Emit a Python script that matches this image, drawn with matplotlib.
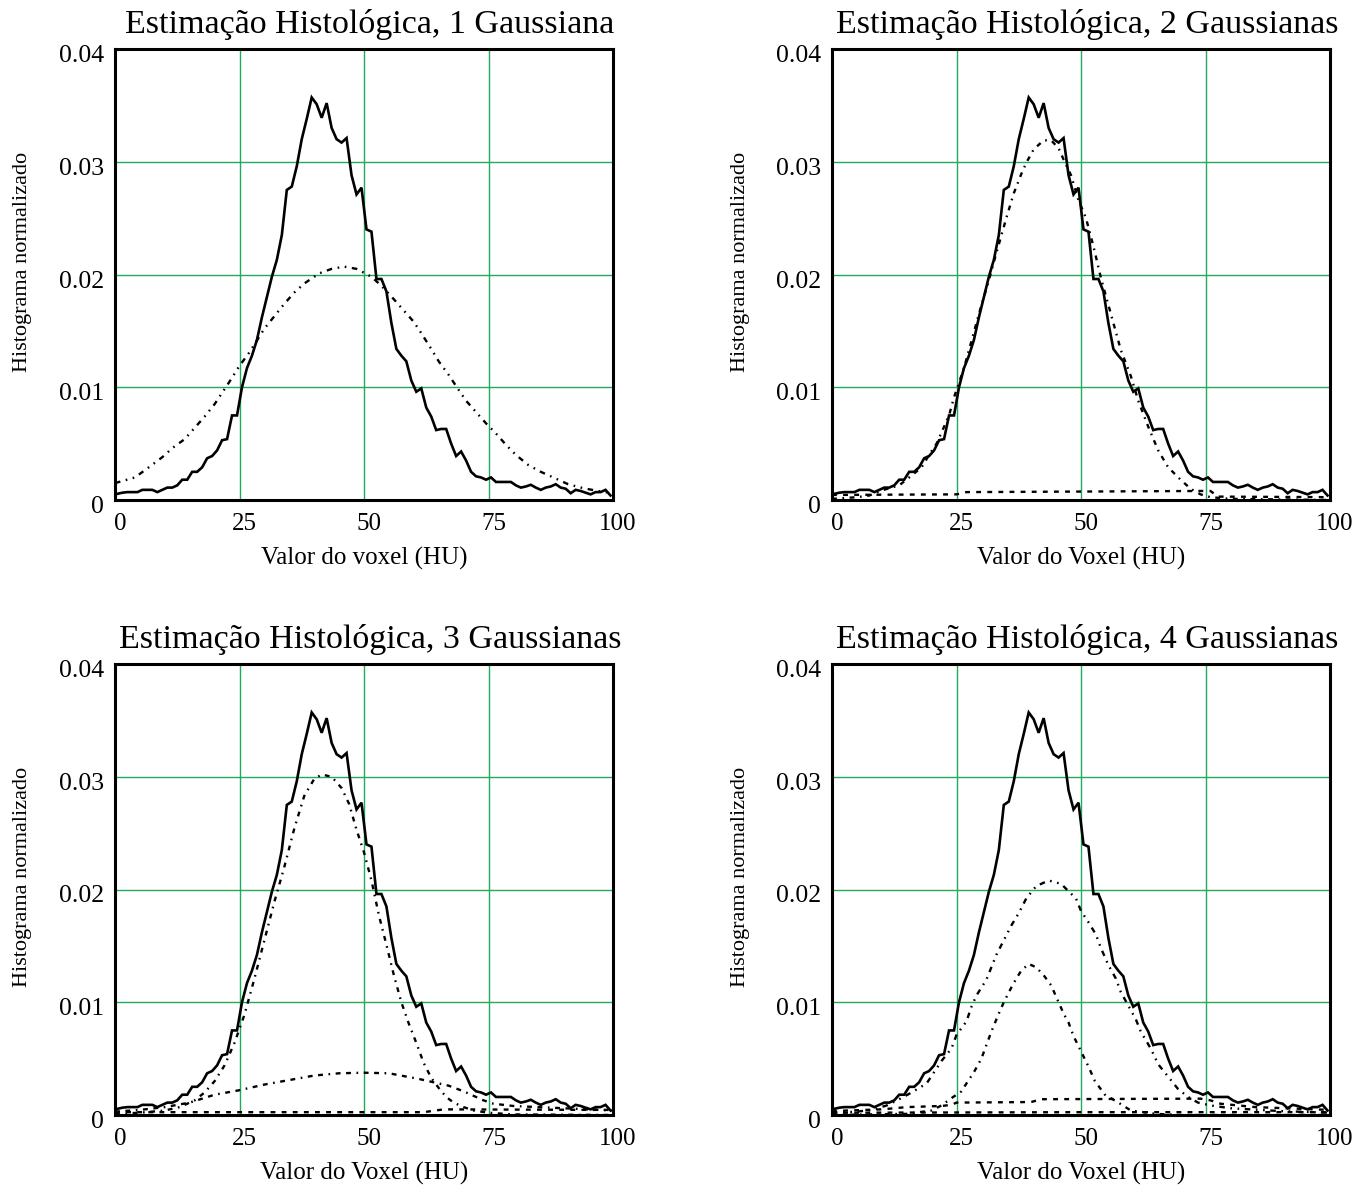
import numpy as np
import matplotlib
matplotlib.use("Agg")
import matplotlib.pyplot as plt
from matplotlib.transforms import ScaledTranslation, blended_transform_factory

plt.rcParams['font.family'] = ['Liberation Serif', 'DejaVu Serif']
plt.rcParams['lines.scale_dashes'] = False

# normalised histogram, one value per HU bin (bin centres 0.5 ... 99.5), in units of 1e-3
hist_y = [0.55, 0.65, 0.7, 0.7, 0.7, 0.9, 0.9, 0.9, 0.7, 0.9,
          1.1, 1.1, 1.3, 1.8, 1.8, 2.5, 2.5, 2.9, 3.7, 3.9,
          4.4, 5.3, 5.4, 7.5, 7.5, 10.0, 11.7, 12.8, 14.2, 16.2,
          18.0, 19.8, 21.3, 23.5, 27.5, 27.8, 29.6, 32.0, 33.8, 35.7,
          35.1, 33.9, 35.2, 33.0, 32.0, 31.7, 32.1, 28.8, 27.1, 27.7,
          24.0, 23.8, 19.6, 19.6, 18.5, 15.7, 13.4, 12.8, 12.3, 10.6,
          9.6, 9.9, 8.2, 7.4, 6.2, 6.3, 6.3, 5.0, 3.9, 4.3,
          3.5, 2.5, 2.1, 2.0, 1.8, 2.0, 1.6, 1.6, 1.6, 1.6,
          1.3, 1.1, 1.2, 1.35, 1.1, 0.9, 1.1, 1.2, 1.4, 1.1,
          1.0, 0.6, 0.9, 0.8, 0.65, 0.5, 0.7, 0.7, 0.9, 0.4]
hist_x = np.arange(len(hist_y)) + 0.5

# fitted components (x in HU, y in units of 1e-3)
g1_x = [0, 4, 6.5, 9.5, 11.5, 14, 16, 18, 20, 21.5, 23, 25, 27, 28, 30, 32, 34, 36, 38, 41,
        43.5, 46, 48.5, 51.5, 53.5, 56, 58, 60, 61.5, 63.5, 65, 67, 68.5, 70.5, 72.5, 74.5,
        76.5, 78.5, 80.5, 83, 85.5, 88, 91, 94, 97, 100]
g1_y = [1.5, 2.0, 2.8, 3.8, 4.6, 5.4, 6.4, 7.4, 8.5, 9.5, 10.5, 11.9, 13.1, 13.8, 15.2, 16.3,
        17.4, 18.4, 19.2, 20.1, 20.5, 20.7, 20.5, 19.8, 19.0, 17.8, 16.8, 15.8, 14.8, 13.4,
        12.3, 11.1, 10.1, 8.8, 7.8, 6.8, 5.9, 4.9, 4.0, 3.1, 2.5, 2.0, 1.4, 1.05, 0.8, 0.6]

g2a_x = [0, 5, 7.5, 10, 13.5, 15.5, 18, 19.5, 21, 22.5, 23.5, 24.5, 26.5, 29.5, 31.5, 33, 35,
         36.5, 38, 39, 40.5, 42.5, 44, 45.5, 46.5, 48, 49.5, 51, 52.5, 54, 56.5, 58, 60, 61.5,
         63.5, 65.5, 67.5, 70, 72, 74, 76, 80, 100]
g2a_y = [0.1, 0.25, 0.4, 0.85, 1.3, 2.0, 2.9, 4.0, 5.0, 6.5, 7.5, 9.1, 11.7, 16.5, 19.5, 21.9,
         25.0, 27.2, 28.9, 29.9, 31.1, 31.9, 31.9, 31.2, 30.2, 28.8, 26.6, 25.0, 22.5, 19.7,
         15.7, 13.3, 11.0, 8.8, 6.5, 4.4, 2.9, 1.8, 1.0, 0.5, 0.25, 0.1, 0.0]
g2b_x = [0, 25, 27, 74, 76, 77.5, 100]
g2b_y = [0.45, 0.5, 0.7, 0.8, 0.8, 0.3, 0.25]

g3a_x = [0, 5, 10, 13, 16, 18, 20, 22, 24, 26, 28, 30, 32, 34, 36, 38, 40, 41.5, 43.5, 45.5,
         47, 48.5, 50, 51.5, 53, 54.5, 56, 57.5, 59, 60.5, 62, 63.5, 65, 66.5, 68, 70, 72, 75,
         80, 100]
g3a_y = [0.1, 0.2, 0.4, 0.7, 1.3, 2.0, 3.0, 4.4, 6.4, 8.9, 12.1, 15.5, 18.9, 22.0, 25.4, 28.3,
         29.8, 30.2, 30.0, 29.0, 27.6, 25.3, 23.3, 20.8, 17.7, 15.1, 12.4, 10.0, 8.1, 6.4, 4.6,
         3.3, 2.4, 1.6, 1.1, 0.7, 0.4, 0.2, 0.05, 0.0]
g3b_x = [0, 5, 10, 15, 20, 25, 30, 35, 40, 45, 50, 55, 58, 61, 64, 67, 70, 72, 74, 76, 80, 90, 100]
g3b_y = [0.3, 0.45, 0.7, 1.1, 1.8, 2.2, 2.7, 3.1, 3.5, 3.7, 3.75, 3.7, 3.45, 3.2, 2.9, 2.6, 2.1,
         1.7, 1.3, 1.0, 0.8, 0.6, 0.4]
g3c_x = [0, 62, 66, 100]
g3c_y = [0.25, 0.25, 0.5, 0.45]

g4a_x = [0, 5, 8, 11, 13.5, 16, 19, 20.5, 22, 24, 25, 27, 28, 29, 31, 32, 33, 34.5, 36, 37.5,
         39, 41, 43.5, 46, 49, 50, 51.5, 53, 54, 55.5, 57, 58, 59.5, 61, 62, 64, 65.5, 67.5,
         69.5, 71.5, 73.5, 76, 80, 90, 100]
g4a_y = [0.2, 0.3, 0.45, 0.85, 1.4, 2.0, 2.8, 3.8, 4.8, 5.9, 7.1, 8.3, 9.6, 10.6, 12.0, 13.1,
         14.2, 15.5, 16.8, 17.9, 19.2, 20.3, 20.8, 20.5, 19.2, 18.1, 17.1, 16.0, 14.8, 13.3,
         12.1, 10.9, 9.7, 8.5, 7.4, 5.9, 4.5, 3.4, 2.3, 1.6, 1.1, 0.85, 0.6, 0.35, 0.2]
g4b_x = [0, 15, 20, 22, 24, 26, 27, 28.5, 30, 31, 32, 33.5, 34.5, 36, 37, 38, 39.5, 41, 42.5,
         44, 45, 46.5, 47.5, 48.5, 49.5, 50.5, 51.5, 52.8, 54.8, 57.5, 60, 65, 70, 100]
g4b_y = [0, 0.1, 0.4, 0.85, 1.5, 2.1, 2.8, 3.8, 5.0, 6.2, 7.4, 9.0, 10.0, 11.3, 12.1, 12.8,
         13.4, 13.1, 12.4, 11.5, 10.5, 9.0, 8.2, 7.0, 6.1, 5.2, 4.3, 3.0, 1.8, 1.1, 0.4, 0.1,
         0.0, 0.0]
g4c_x = [0, 10, 15, 22, 24, 25, 40, 42, 74, 76, 78, 85, 100]
g4c_y = [0.35, 0.5, 0.7, 0.8, 0.9, 1.1, 1.15, 1.4, 1.45, 1.3, 1.0, 0.7, 0.45]
g4d_x = [0, 50, 100]
g4d_y = [0.2, 0.25, 0.25]

titles = ['Estimação Histológica, 1 Gaussiana', 'Estimação Histológica, 2 Gaussianas',
          'Estimação Histológica, 3 Gaussianas', 'Estimação Histológica, 4 Gaussianas']
xlabels = ['Valor do voxel (HU)', 'Valor do Voxel (HU)', 'Valor do Voxel (HU)', 'Valor do Voxel (HU)']
ylabel = 'Histograma normalizado'
x_ticks = [0, 25, 50, 75, 100]
y_ticks = [0, 0.01, 0.02, 0.03, 0.04]
y_ticklabels = ['0', '0.01', '0.02', '0.03', '0.04']

dash_dot2 = (0, (4, 4, 1.2, 4, 1.2, 4))
dash_dot = (0, (3.5, 4, 1.2, 4))
dashed = (0, (3.5, 4.5))
dash_dash_dot = (0, (3.5, 4, 3.5, 4, 1.2, 4))

components = [
    [(g1_x, g1_y, dash_dot2)],
    [(g2a_x, g2a_y, dash_dot), (g2b_x, g2b_y, dashed)],
    [(g3a_x, g3a_y, dash_dot), (g3b_x, g3b_y, dash_dash_dot), (g3c_x, g3c_y, dashed)],
    [(g4a_x, g4a_y, dash_dot2), (g4b_x, g4b_y, dash_dot), (g4c_x, g4c_y, dashed),
     (g4d_x, g4d_y, dashed)],
]

grid_green = '#1faa5c'
W, H = 1368, 1189
fig = plt.figure(figsize=(W / 100, H / 100), dpi=100)

# axes boxes in pixels: left, top, right, bottom
boxes = [(115, 49, 613, 500), (832, 49, 1330, 500),
         (115, 664, 613, 1115), (832, 664, 1330, 1115)]


def px(x, y):
    return ScaledTranslation(x / 100, -y / 100, fig.dpi_scale_trans)


for i, (l, t, r, b) in enumerate(boxes):
    ax = fig.add_axes([l / W, 1 - b / H, (r - l) / W, (b - t) / H])
    ax.plot(hist_x, np.array(hist_y) / 1000, color='black', lw=1.9, zorder=4,
            solid_joinstyle='miter')
    for cx, cy, ls in components[i]:
        ax.plot(cx, np.array(cy) / 1000, color='black', lw=1.7, linestyle=ls, zorder=3)

    ax.set_xlim(0, 100)
    ax.set_ylim(0, 0.04)
    ax.set_xticks(x_ticks)
    ax.set_yticks(y_ticks)
    ax.tick_params(length=0, labelbottom=False, labelleft=False)
    ax.grid(True, color=grid_green, lw=1.0, zorder=1)
    ax.set_axisbelow(True)
    for s in ax.spines.values():
        s.set_linewidth(2.2)
        s.set_zorder(5)

    xt = blended_transform_factory(ax.transData, ax.transAxes)
    for v in x_ticks:
        ax.text(v, 0, str(v), transform=xt + px(5, 30), ha='center', va='baseline',
                fontsize=18)
    yt = blended_transform_factory(ax.transAxes, ax.transData)
    for v, lab in zip(y_ticks, y_ticklabels):
        ax.text(0, v, lab, transform=yt + px(-11, 13), ha='right', va='baseline',
                fontsize=18.5)

    ax.text(0.5, 1, titles[i], transform=ax.transAxes + px(6, -16), ha='center',
            va='baseline', fontsize=24.5)
    ax.text(0.5, 0, xlabels[i], transform=ax.transAxes + px(0, 65), ha='center',
            va='baseline', fontsize=18)
    ax.text(0, 0.528, ylabel, transform=ax.transAxes + px(-92, 0), ha='center',
            va='center', rotation=90, fontsize=16)

fig.savefig('out.png', dpi=100, facecolor='white')
